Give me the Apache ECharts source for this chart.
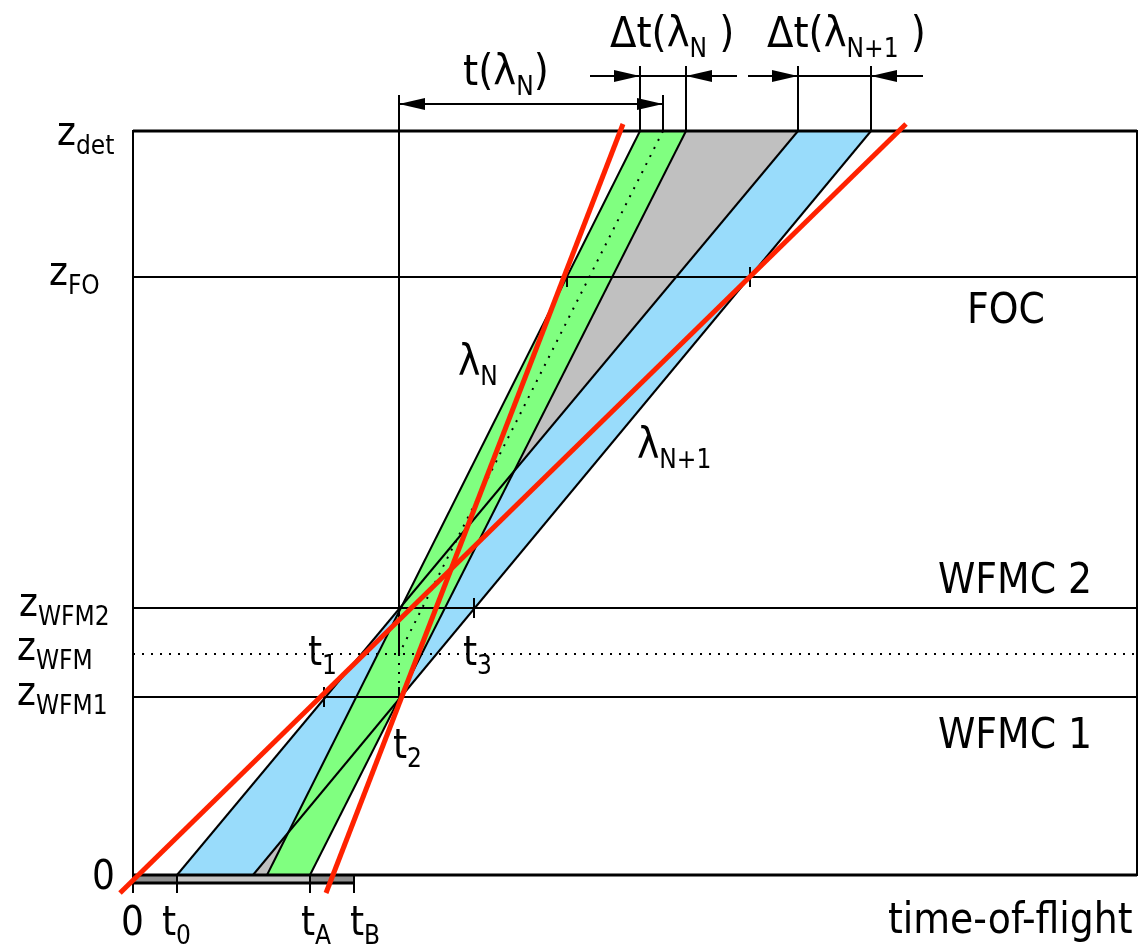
<!DOCTYPE html>
<html>
<head>
    <meta charset="utf-8">
    <title>WFM time-of-flight diagram</title>
    <script src="https://cdn.jsdelivr.net/npm/echarts@6/dist/echarts.min.js"></script>
</head>
<body style="margin:0;background:#fff">
    <div id="main" style="width:1142px;height:945px;"></div>
    <script type="text/javascript">
    // schematic units: time to the right, distance z upwards
    var tMax = 1004;
    var zDet = 744;
    var zFO = 598, zWFM2 = 267, zWFM = 221, zWFM1 = 178;

    // times on the bottom axis
    var t0 = 44, tA = 177, tB = 221;
    var tFocus = 266;          // both bands pass this time at the WFM choppers

    // band corners: bottom-left, bottom-right, top-right, top-left
    var bandN  = [[134, 0], [tA, 0], [553, zDet], [507, zDet]];   // lambda_N (green)
    var bandN1 = [[t0, 0], [120, 0], [738, zDet], [665, zDet]];   // lambda_N+1 (blue)

    // red limiting lines [t1, z1, t2, z2]
    var redLines = [[490, 751, 193, -18], [773, 751, -13, -18]];

    // pulse along the time axis
    var pulseParts = [[0, t0], [t0, tA], [tA, tB]];

    // crossings marked by short ticks
    var ticks = [[191, zWFM1], [341, zWFM2], [tFocus, zWFM1], [434, zFO], [617, zFO]];

    // dimension lines at the top
    var zDimHi = 799, zDimLo = 771, zExtHi = 809, zExtLo = 780;
    var dimEdges = [507, 553, 665, 738];
    var tCentre = 530;

    var FONT = "'DejaVu Sans Condensed', 'DejaVu Sans', sans-serif";

    // labels: [t, baseline z, rich text, main size, sub size]
    var labels = [
        [-76, 730, '{m|z}{s|det}', 40, 26],
        [-84, 590, '{m|z}{s|FO}', 40, 26],
        [-114, 259, '{m|z}{s|WFM2}', 40, 26],
        [-116, 215, '{m|z}{s|WFM}', 40, 26],
        [-116, 170, '{m|z}{s|WFM1}', 40, 26],
        [-41, -14, '{m|0}', 40, 26],
        [-12, -60, '{m|0}', 40, 26],
        [29, -60, '{m|t}{s|0}', 40, 26],
        [168, -60, '{m|t}{s|A}', 40, 26],
        [217, -60, '{m|t}{s|B}', 40, 26],
        [755, -58, '{m|time-of-flight}', 42, 26],
        [834, 552, '{m|FOC}', 42, 26],
        [805, 282, '{m|WFMC 2}', 42, 26],
        [805, 127, '{m|WFMC 1}', 42, 26],
        [325, 500, '{m|λ}{s|N}', 42, 26],
        [504, 417, '{m|λ}{s|N+1}', 42, 26],
        [175, 210, '{m|t}{s|1}', 40, 26],
        [330, 210, '{m|t}{s|3}', 40, 26],
        [260, 117, '{m|t}{s|2}', 40, 26],
        [330, 790, '{m|t(λ}{s|N}{m|)}', 43, 26],
        [477, 828, '{m|Δt(λ}{s|N}{m| )}', 43, 26],
        [634, 828, '{m|Δt(λ}{s|N+1}{m| )}', 43, 26]
    ];

    // ---- build segment lists from the values above ----
    var solid = [
        [0, zFO, tMax, zFO], [0, zWFM2, tMax, zWFM2], [0, zWFM1, tMax, zWFM1],
        [tFocus, zExtLo, tFocus, zWFM],
        [tCentre, zDet, tCentre, zExtLo],
        [457, zDimHi, 604, zDimHi], [615, zDimHi, 790, zDimHi], [tFocus, zDimLo, tCentre, zDimLo]
    ];
    [bandN, bandN1].forEach(function (b) {
        solid.push([b[0][0], b[0][1], b[3][0], b[3][1]]);
        solid.push([b[1][0], b[1][1], b[2][0], b[2][1]]);
    });
    dimEdges.forEach(function (t) { solid.push([t, zDet, t, zExtHi]); });
    ticks.forEach(function (p) { solid.push([p[0], p[1] - 10, p[0], p[1] + 10]); });
    [0, t0, tA, tB].forEach(function (t) { solid.push([t, 0, t, -18]); });

    var thick = [[0, zDet, tMax, zDet], [0, 0, tMax, 0], [0, -8, tB, -8]];
    var dotted = [[0, zWFM, tMax, zWFM], [tCentre, zDet, tFocus, zWFM], [tFocus, zWFM, tFocus, zWFM1]];

    // arrow tips [t, z, direction]
    var arrows = [[507, zDimHi, 1], [553, zDimHi, -1], [665, zDimHi, 1], [738, zDimHi, -1],
                  [tFocus, zDimLo, -1], [tCentre, zDimLo, 1]];

    // gray bow-tie between the inner edges, then the two bands on top
    var polygons = [
        {pts: [bandN[1], bandN[2], bandN1[3], bandN1[0]], color: '#c0c0c0'},
        {pts: bandN1, color: '#99dcfb'},
        {pts: bandN, color: '#80ff80'}
    ];

    function segSeries(list, style, z) {
        return {
            type: 'custom', z: z, silent: true,
            encode: {x: [0, 2], y: [1, 3]},
            data: list,
            renderItem: function (params, api) {
                var a = api.coord([api.value(0), api.value(1)]);
                var b = api.coord([api.value(2), api.value(3)]);
                return {
                    type: 'line',
                    shape: {x1: a[0], y1: a[1], x2: b[0], y2: b[1]},
                    style: style
                };
            }
        };
    }

    var SUB_DROP = 6;

    var chart = echarts.init(document.getElementById('main'));
    chart.setOption({
        animation: false,
        backgroundColor: '#fff',
        grid: {left: 133, right: 5, top: 131, bottom: 70, show: true, borderColor: '#000', borderWidth: 2},
        xAxis: {type: 'value', min: 0, max: tMax, show: false},
        yAxis: {type: 'value', min: 0, max: zDet, show: false},
        series: [
            {
                type: 'custom', z: 1, silent: true,
                data: polygons.map(function (p, i) { return [i]; }),
                renderItem: function (params, api) {
                    var p = polygons[params.dataIndex];
                    return {
                        type: 'polygon',
                        shape: {points: p.pts.map(function (v) { return api.coord(v); })},
                        style: {fill: p.color}
                    };
                }
            },
            {
                type: 'custom', z: 2, silent: true,
                data: pulseParts,
                renderItem: function (params, api) {
                    var a = api.coord([api.value(0), 0]);
                    var b = api.coord([api.value(1), -8]);
                    var dark = params.dataIndex !== 1;
                    return {
                        type: 'rect',
                        shape: {x: a[0], y: a[1], width: b[0] - a[0], height: b[1] - a[1]},
                        style: {fill: dark ? '#8f8f8f' : '#c4c4c4'}
                    };
                }
            },
            segSeries(dotted, {stroke: '#000', lineWidth: 2, lineDash: [2, 7]}, 3),
            segSeries(solid, {stroke: '#000', lineWidth: 2}, 4),
            segSeries(thick, {stroke: '#000', lineWidth: 3}, 4),
            segSeries(redLines, {stroke: '#ff2200', lineWidth: 5}, 5),
            {
                type: 'custom', z: 6, silent: true,
                data: arrows,
                renderItem: function (params, api) {
                    var tip = api.coord([api.value(0), api.value(1)]);
                    var d = api.value(2);
                    return {
                        type: 'polygon',
                        shape: {points: [tip, [tip[0] - d * 26, tip[1] - 6], [tip[0] - d * 26, tip[1] + 6]]},
                        style: {fill: '#000'}
                    };
                }
            },
            {
                type: 'custom', z: 7, silent: true,
                data: labels.map(function (l) { return [l[0], l[1]]; }),
                renderItem: function (params, api) {
                    var l = labels[params.dataIndex];
                    var p = api.coord([l[0], l[1]]);
                    var fs = l[3], ss = l[4];
                    return {
                        type: 'text',
                        style: {
                            x: p[0], y: p[1] - ((fs + 2) / 2 + 0.26 * fs),
                            text: l[2], align: 'left', verticalAlign: 'top',
                            rich: {
                                m: {fontSize: fs, fontFamily: FONT, height: fs + 2, lineHeight: fs + 2 + SUB_DROP, verticalAlign: 'top', fill: '#000'},
                                s: {fontSize: ss, fontFamily: FONT, height: ss + 2, lineHeight: ss + 2, verticalAlign: 'bottom', fill: '#000'}
                            }
                        }
                    };
                }
            }
        ]
    });
    </script>
</body>
</html>
